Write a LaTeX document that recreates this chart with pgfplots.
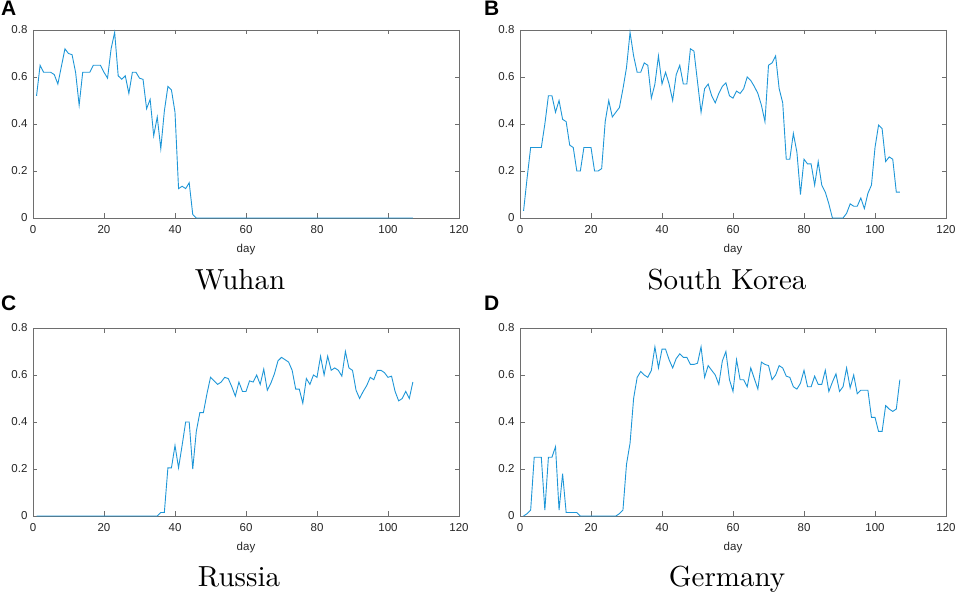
\documentclass[border=0pt]{standalone}
\usepackage{fontspec}
\setsansfont{Liberation Sans}
\newfontfamily\titlefont{lmroman10-regular.otf}
\usepackage{pgfplots}
\usepackage{pgfplotstable}
\pgfplotsset{compat=1.18}
\definecolor{matblue}{RGB}{30,150,215}
\definecolor{axgray}{RGB}{110,110,110}
\definecolor{txt}{RGB}{38,38,38}

\pgfplotstableread{
d v
1 0.52
2 0.65
3 0.62
4 0.62
5 0.62
6 0.61
7 0.57
8 0.645
9 0.72
10 0.70
11 0.695
12 0.62
13 0.48
14 0.62
15 0.62
16 0.62
17 0.65
18 0.65
19 0.65
20 0.62
21 0.595
22 0.72
23 0.79
24 0.605
25 0.59
26 0.605
27 0.53
28 0.62
29 0.62
30 0.595
31 0.59
32 0.465
33 0.505
34 0.35
35 0.43
36 0.295
37 0.455
38 0.56
39 0.545
40 0.45
41 0.125
42 0.135
43 0.125
44 0.15
45 0.015
46 0
47 0
50 0
55 0
60 0
65 0
70 0
75 0
80 0
85 0
90 0
95 0
100 0
105 0
107 0
}\tabA

\pgfplotstableread{
d v
1 0.03
2 0.17
3 0.30
4 0.30
5 0.30
6 0.30
7 0.40
8 0.52
9 0.52
10 0.45
11 0.50
12 0.42
13 0.41
14 0.31
15 0.30
16 0.20
17 0.20
18 0.30
19 0.30
20 0.30
21 0.20
22 0.20
23 0.21
24 0.41
25 0.50
26 0.43
27 0.45
28 0.47
29 0.55
30 0.64
31 0.79
32 0.69
33 0.62
34 0.62
35 0.66
36 0.65
37 0.51
38 0.57
39 0.69
40 0.57
41 0.62
42 0.57
43 0.50
44 0.61
45 0.65
46 0.57
47 0.57
48 0.72
49 0.71
50 0.58
51 0.45
52 0.55
53 0.57
54 0.52
55 0.49
56 0.53
57 0.56
58 0.575
59 0.52
60 0.51
61 0.54
62 0.53
63 0.55
64 0.60
65 0.585
66 0.56
67 0.53
68 0.48
69 0.41
70 0.65
71 0.66
72 0.69
73 0.55
74 0.49
75 0.25
76 0.25
77 0.36
78 0.28
79 0.10
80 0.25
81 0.23
82 0.23
83 0.14
84 0.24
85 0.14
86 0.11
87 0.06
88 0
89 0
90 0
91 0
92 0.02
93 0.06
94 0.05
95 0.05
96 0.085
97 0.04
98 0.105
99 0.14
100 0.30
101 0.395
102 0.38
103 0.24
104 0.26
105 0.25
106 0.11
107 0.11
}\tabB

\pgfplotstableread{
d v
1 0
5 0
10 0
15 0
20 0
25 0
30 0
35 0
36 0.015
37 0.015
38 0.205
39 0.205
40 0.30
41 0.205
42 0.30
43 0.40
44 0.40
45 0.20
46 0.36
47 0.44
48 0.44
49 0.52
50 0.59
51 0.575
52 0.56
53 0.57
54 0.59
55 0.585
56 0.55
57 0.51
58 0.57
59 0.53
60 0.53
61 0.575
62 0.57
63 0.60
64 0.56
65 0.625
66 0.535
67 0.565
68 0.605
69 0.66
70 0.675
71 0.665
72 0.655
73 0.62
74 0.54
75 0.54
76 0.48
77 0.585
78 0.56
79 0.60
80 0.59
81 0.68
82 0.60
83 0.68
84 0.62
85 0.63
86 0.62
87 0.595
88 0.70
89 0.63
90 0.62
91 0.535
92 0.50
93 0.53
94 0.555
95 0.59
96 0.58
97 0.62
98 0.62
99 0.61
100 0.59
101 0.595
102 0.53
103 0.49
104 0.50
105 0.53
106 0.50
107 0.57
}\tabC

\pgfplotstableread{
d v
1 0
2 0.01
3 0.025
4 0.25
5 0.25
6 0.25
7 0.025
8 0.25
9 0.25
10 0.295
11 0.025
12 0.18
13 0.015
14 0.015
15 0.015
16 0.015
17 0
20 0
25 0
27 0
28 0.01
29 0.025
30 0.22
31 0.31
32 0.50
33 0.59
34 0.615
35 0.60
36 0.59
37 0.62
38 0.72
39 0.63
40 0.71
41 0.71
42 0.665
43 0.63
44 0.67
45 0.69
46 0.675
47 0.675
48 0.645
49 0.645
50 0.65
51 0.72
52 0.59
53 0.64
54 0.62
55 0.60
56 0.56
57 0.66
58 0.70
59 0.58
60 0.53
61 0.665
62 0.58
63 0.58
64 0.55
65 0.63
66 0.585
67 0.54
68 0.655
69 0.645
70 0.64
71 0.58
72 0.60
73 0.64
74 0.63
75 0.595
76 0.59
77 0.55
78 0.54
79 0.565
80 0.62
81 0.55
82 0.55
83 0.595
84 0.56
85 0.56
86 0.62
87 0.53
88 0.57
89 0.605
90 0.53
91 0.55
92 0.63
93 0.545
94 0.60
95 0.52
96 0.535
97 0.535
98 0.535
99 0.42
100 0.42
101 0.36
102 0.36
103 0.47
104 0.455
105 0.445
106 0.455
107 0.58
}\tabD

\pgfplotsset{
  panel/.style={
    scale only axis,
    width=426pt, height=188pt,
    anchor=south west,
    xmin=0, xmax=120, ymin=0, ymax=0.8,
    xtick={0,20,...,120},
    ytick={0,0.2,0.4,0.6,0.8},
    yticklabels={0,0.2,0.4,0.6,0.8},
    tick align=inside,
    tick pos=both,
    major tick length=4.5pt,
    axis line style={axgray, line width=0.8pt},
    every tick/.style={axgray, line width=0.8pt},
    /pgf/number format/assume math mode=true,
    ticklabel style={font=\sffamily\fontsize{11.5}{13}\selectfont, text=txt},
    xticklabel style={yshift=-4pt},
    yticklabel style={xshift=-2pt},
    xlabel={day},
    xlabel style={font=\sffamily\fontsize{11.5}{13}\selectfont, text=txt,
      at={(axis description cs:0.5,0)}, anchor=base, yshift=-35pt},
    clip=false,
  },
  ser/.style={matblue, line width=0.9pt, no marks},
}

\begin{document}
\begin{tikzpicture}[x=1pt,y=1pt]
\useasboundingbox (0,0) rectangle (955,593);
\begin{axis}[panel, at={(33pt,375pt)}]
\addplot[ser] table[x=d,y=v]{\tabA};
\end{axis}
\begin{axis}[panel, at={(520pt,375pt)}]
\addplot[ser] table[x=d,y=v]{\tabB};
\end{axis}
\begin{axis}[panel, at={(33pt,77pt)}]
\addplot[ser] table[x=d,y=v]{\tabC};
\end{axis}
\begin{axis}[panel, at={(520pt,77pt)}]
\addplot[ser] table[x=d,y=v]{\tabD};
\end{axis}
\node[anchor=base, font=\titlefont\fontsize{29}{34}\selectfont] at (240,303) {Wuhan};
\node[anchor=base, font=\titlefont\fontsize{29}{34}\selectfont] at (727,303) {South Korea};
\node[anchor=base, font=\titlefont\fontsize{29}{34}\selectfont] at (239,6.5) {Russia};
\node[anchor=base, font=\titlefont\fontsize{29}{34}\selectfont] at (727,6.5) {Germany};
\node[anchor=north west, inner sep=0pt, font=\sffamily\bfseries\fontsize{21}{24}\selectfont] at (1,592) {A};
\node[anchor=north west, inner sep=0pt, font=\sffamily\bfseries\fontsize{21}{24}\selectfont] at (484,592) {B};
\node[anchor=north west, inner sep=0pt, font=\sffamily\bfseries\fontsize{21}{24}\selectfont] at (1,297) {C};
\node[anchor=north west, inner sep=0pt, font=\sffamily\bfseries\fontsize{21}{24}\selectfont] at (484,297) {D};
\end{tikzpicture}
\end{document}
